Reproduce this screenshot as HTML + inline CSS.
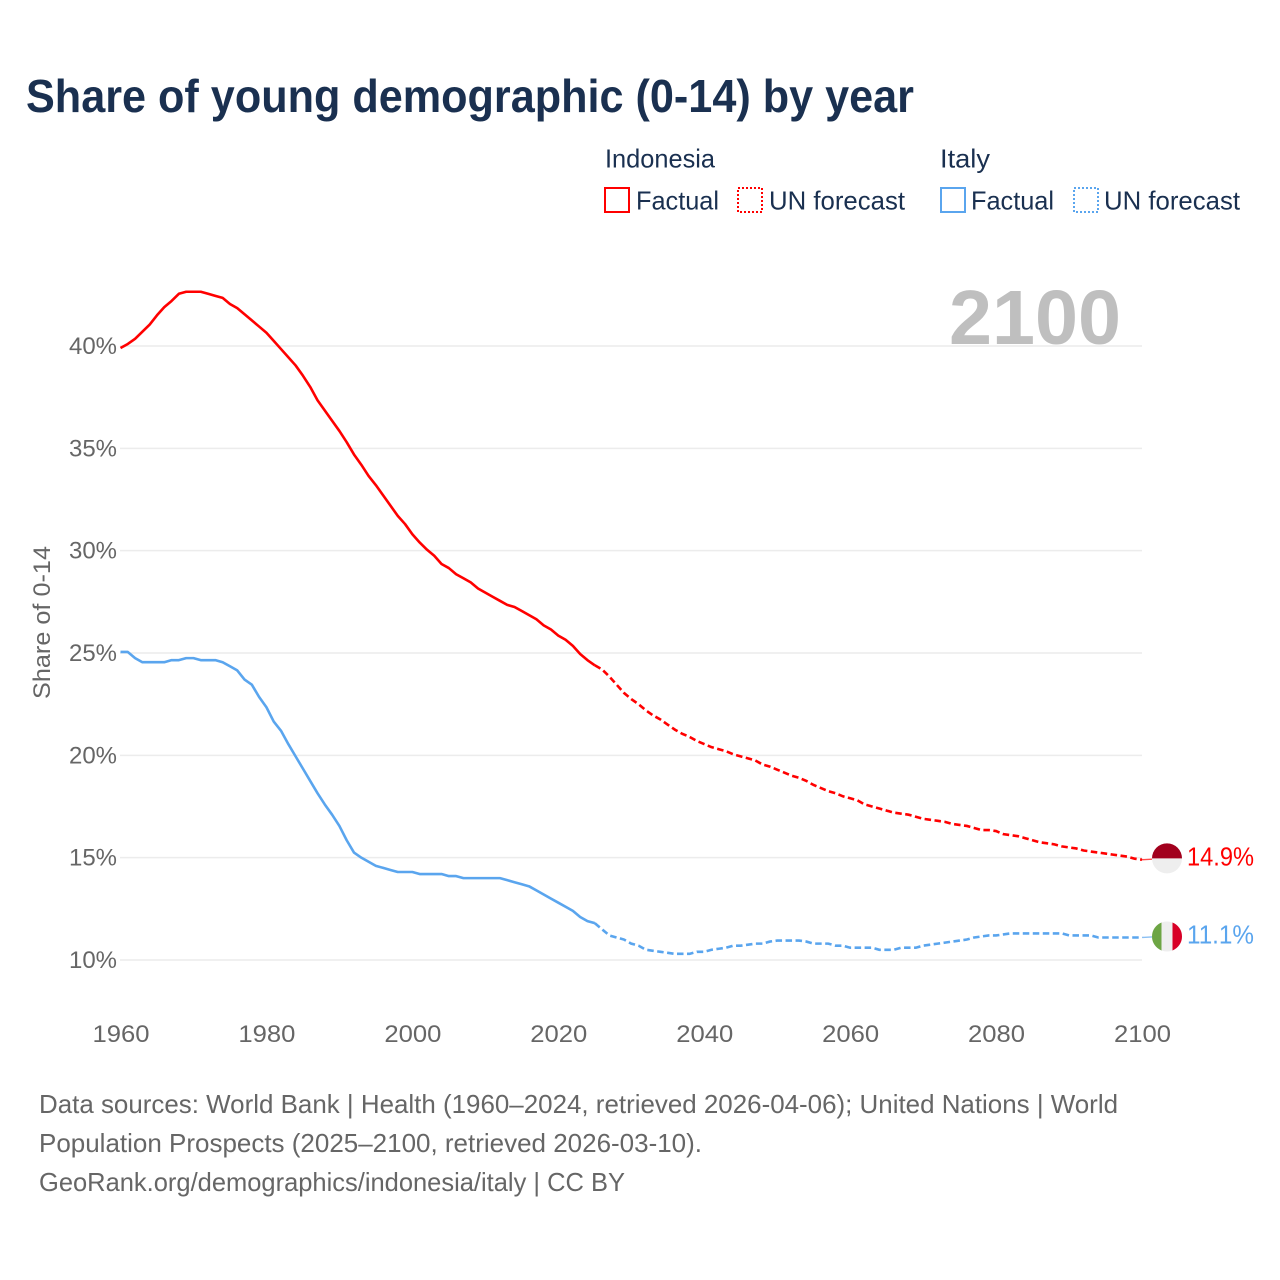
<!DOCTYPE html>
<html lang="en">
<head>
<meta charset="utf-8">
<title>Share of young demographic (0-14) by year</title>
<style>
html,body{margin:0;padding:0;background:#fff;}
svg{display:block;font-family:"Liberation Sans",sans-serif;}
</style>
</head>
<body>
<svg id="chart" xmlns="http://www.w3.org/2000/svg" width="1280" height="1280" viewBox="0 0 1280 1280">
  <rect width="1280" height="1280" fill="#fff"/>
  <text x="26" y="112" font-size="46" font-weight="700" fill="#1a3050" textLength="888" lengthAdjust="spacingAndGlyphs">Share of young demographic (0-14) by year</text>

  <g font-size="26" fill="#1a3050">
    <text x="605" y="167.5" textLength="110" lengthAdjust="spacingAndGlyphs">Indonesia</text>
    <rect x="605" y="188" width="24" height="24" fill="none" stroke="#ff0000" stroke-width="2"/>
    <text x="636" y="209.5" textLength="83" lengthAdjust="spacingAndGlyphs">Factual</text>
    <rect x="738" y="188" width="24" height="24" fill="none" stroke="#ff0000" stroke-width="2" stroke-dasharray="2 2"/>
    <text x="769" y="209.5" textLength="136" lengthAdjust="spacingAndGlyphs">UN forecast</text>

    <text x="940" y="167.5" textLength="50" lengthAdjust="spacingAndGlyphs">Italy</text>
    <rect x="941" y="188" width="24" height="24" fill="none" stroke="#5aa5ee" stroke-width="2"/>
    <text x="971" y="209.5" textLength="83" lengthAdjust="spacingAndGlyphs">Factual</text>
    <rect x="1074" y="188" width="24" height="24" fill="none" stroke="#5aa5ee" stroke-width="2" stroke-dasharray="2 2"/>
    <text x="1104" y="209.5" textLength="136" lengthAdjust="spacingAndGlyphs">UN forecast</text>
  </g>

  <g id="grid"></g>
  <text x="949" y="344" font-size="77" font-weight="700" fill="#bfbfbf" textLength="172" lengthAdjust="spacingAndGlyphs">2100</text>
  <g id="yTicks" font-size="24" fill="#666"></g>
  <g id="xTicks" font-size="24" fill="#666"></g>
  <text transform="translate(50,699) rotate(-90)" font-size="24" fill="#666" textLength="153" lengthAdjust="spacingAndGlyphs">Share of 0-14</text>
  <g id="series"></g>
  <g id="ends"></g>

  <g font-size="26" fill="#666">
    <text x="39" y="1113" textLength="1079" lengthAdjust="spacingAndGlyphs">Data sources: World Bank | Health (1960–2024, retrieved 2026-04-06); United Nations | World</text>
    <text x="39" y="1152" textLength="663" lengthAdjust="spacingAndGlyphs">Population Prospects (2025–2100, retrieved 2026-03-10).</text>
    <text x="39" y="1191" textLength="586" lengthAdjust="spacingAndGlyphs">GeoRank.org/demographics/indonesia/italy | CC BY</text>
  </g>
</svg>
<script>
const firstYear = 1960;
const lastFactualYear = 2025;
const yearTicks = [1960, 1980, 2000, 2020, 2040, 2060, 2080, 2100];
const shareTicks = [10, 15, 20, 25, 30, 35, 40];
const indonesiaEndLabel = "14.9%";
const italyEndLabel = "11.1%";
const indonesiaShare = [
  39.9,40.1,40.35,40.7,41.05,41.5,41.9,42.2,42.55,42.65,
  42.65,42.65,42.55,42.45,42.35,42.05,41.85,41.55,41.25,40.95,
  40.65,40.25,39.85,39.45,39.05,38.55,38,37.35,36.85,36.35,
  35.85,35.3,34.7,34.2,33.65,33.2,32.7,32.2,31.7,31.3,
  30.8,30.4,30.05,29.75,29.35,29.15,28.85,28.65,28.45,28.15,
  27.95,27.75,27.55,27.35,27.25,27.05,26.85,26.65,26.35,26.15,
  25.85,25.65,25.35,24.95,24.65,24.4,24.2,23.85,23.45,23.05,
  22.75,22.5,22.2,21.95,21.75,21.5,21.25,21.05,20.9,20.7,
  20.55,20.4,20.3,20.2,20.05,19.95,19.85,19.75,19.55,19.45,
  19.3,19.15,19,18.9,18.75,18.55,18.4,18.25,18.15,18,
  17.9,17.8,17.6,17.5,17.4,17.3,17.2,17.15,17.1,17,
  16.9,16.85,16.8,16.75,16.65,16.6,16.55,16.45,16.35,16.35,
  16.3,16.15,16.1,16.05,15.95,15.85,15.75,15.7,15.65,15.55,
  15.5,15.45,15.35,15.3,15.25,15.2,15.15,15.1,15.05,14.95,
  14.9
];
const italyShare = [
  25.05,25.05,24.75,24.55,24.55,24.55,24.55,24.65,24.65,24.75,
  24.75,24.65,24.65,24.65,24.55,24.35,24.15,23.7,23.45,22.85,
  22.35,21.65,21.2,20.55,19.95,19.35,18.75,18.15,17.6,17.1,
  16.55,15.85,15.25,15,14.8,14.6,14.5,14.4,14.3,14.3,
  14.3,14.2,14.2,14.2,14.2,14.1,14.1,14,14,14,
  14,14,14,13.9,13.8,13.7,13.6,13.4,13.2,13,
  12.8,12.6,12.4,12.1,11.9,11.8,11.5,11.2,11.1,11,
  10.8,10.7,10.5,10.45,10.4,10.35,10.3,10.3,10.3,10.4,
  10.4,10.5,10.55,10.6,10.7,10.7,10.75,10.8,10.8,10.9,
  10.95,10.95,10.95,10.95,10.9,10.8,10.8,10.8,10.7,10.7,
  10.6,10.6,10.6,10.6,10.5,10.5,10.5,10.6,10.6,10.6,
  10.7,10.75,10.8,10.85,10.9,10.95,11,11.1,11.15,11.2,
  11.2,11.25,11.3,11.3,11.3,11.3,11.3,11.3,11.3,11.3,
  11.2,11.2,11.2,11.2,11.1,11.1,11.1,11.1,11.1,11.1,
  11.1
];

const NS = "http://www.w3.org/2000/svg";
const xScale = function (year) { return 120.5 + (year - 1960) * (1142 - 120.5) / 140; };
const yScale = function (share) { return 960 - (share - 10) * (960 - 346) / 30; };

function make(tag, parent) {
  const el = document.createElementNS(NS, tag);
  parent.appendChild(el);
  return el;
}
function setAll(el, attrs) {
  Object.keys(attrs).forEach(function (k) { el.setAttribute(k, attrs[k]); });
}
function pathFrom(values, fromYear, toYear) {
  let d = "";
  for (let y = fromYear; y <= toYear; y++) {
    d += (d ? "L" : "M") + xScale(y).toFixed(2) + " " + yScale(values[y - firstYear]).toFixed(2);
  }
  return d;
}

const gridG = document.getElementById("grid");
const yTickG = document.getElementById("yTicks");
shareTicks.forEach(function (t) {
  const line = make("line", gridG);
  
  
  setAll(line, { x1: 120, x2: 1142, y1: yScale(t), y2: yScale(t), stroke: "#ececec", "stroke-width": 1.5 });
  const label = make("text", yTickG);
  
  
  setAll(label, { x: 69, y: yScale(t) + 8, textLength: 48, lengthAdjust: "spacingAndGlyphs" });
  label.textContent = t + "%";
});

const xTickG = document.getElementById("xTicks");
yearTicks.forEach(function (t) {
  const label = make("text", xTickG);
  
  
  setAll(label, { x: xScale(t) - 28, y: 1042, textLength: 57, lengthAdjust: "spacingAndGlyphs" });
  label.textContent = String(t);
});

const seriesG = document.getElementById("series");
const lastYear = firstYear + indonesiaShare.length - 1;

const indoFactual = make("path", seriesG);


setAll(indoFactual, { d: pathFrom(indonesiaShare, firstYear, lastFactualYear), fill: "none", stroke: "#ff0000", "stroke-width": 2.6, "stroke-linejoin": "round" });

const indoForecast = make("path", seriesG);


setAll(indoForecast, { d: pathFrom(indonesiaShare, lastFactualYear, lastYear), fill: "none", stroke: "#ff0000", "stroke-width": 2.6, "stroke-dasharray": "6.5 3.5" });

const italyFactual = make("path", seriesG);


setAll(italyFactual, { d: pathFrom(italyShare, firstYear, lastFactualYear), fill: "none", stroke: "#5aa5ee", "stroke-width": 2.6, "stroke-linejoin": "round" });

const italyForecast = make("path", seriesG);


setAll(italyForecast, { d: pathFrom(italyShare, lastFactualYear, lastYear), fill: "none", stroke: "#5aa5ee", "stroke-width": 2.6, "stroke-dasharray": "6.5 3.5" });

const endsG = document.getElementById("ends");
const flagX = 1167;
const flagR = 15;

function connector(value, color, name) {
  const c = make("line", endsG);
  
  
  setAll(c, { x1: xScale(lastYear), x2: flagX - flagR, y1: yScale(value), y2: yScale(value) - 0.5, stroke: color, "stroke-width": 1.4, opacity: 0.7 });
}
function endLabel(value, text, color, name) {
  const t = make("text", endsG);
  
  
  setAll(t, { x: 1187, y: yScale(value) + 6, "font-size": 26, fill: color, textLength: 67, lengthAdjust: "spacingAndGlyphs" });
  t.textContent = text;
}

const indoLast = indonesiaShare[indonesiaShare.length - 1];
const italyLast = italyShare[italyShare.length - 1];
connector(indoLast, "#ff0000", "indonesia-end-connector");
connector(italyLast, "#5aa5ee", "italy-end-connector");

/* Indonesia flag */
const indoCy = yScale(indoLast) - 1.3;
const indoBase = make("circle", endsG);


setAll(indoBase, { cx: flagX, cy: indoCy, r: flagR, fill: "#eeeeee" });
const indoTop = make("path", endsG);


setAll(indoTop, { d: "M" + (flagX - flagR) + " " + indoCy + "A" + flagR + " " + flagR + " 0 0 1 " + (flagX + flagR) + " " + indoCy + "Z", fill: "#a2001d" });

/* Italy flag */
const itCy = yScale(italyLast) - 1;
const itBase = make("circle", endsG);


setAll(itBase, { cx: flagX, cy: itCy, r: flagR, fill: "#eeeeee" });
const bandW = 9.5;
const bandDy = Math.sqrt(flagR * flagR - (flagR - bandW) * (flagR - bandW));
const itGreen = make("path", endsG);


setAll(itGreen, { d: "M" + (flagX - flagR + bandW) + " " + (itCy - bandDy) + "A" + flagR + " " + flagR + " 0 0 0 " + (flagX - flagR + bandW) + " " + (itCy + bandDy) + "Z", fill: "#6da544" });
const itRed = make("path", endsG);


setAll(itRed, { d: "M" + (flagX + flagR - bandW) + " " + (itCy - bandDy) + "A" + flagR + " " + flagR + " 0 0 1 " + (flagX + flagR - bandW) + " " + (itCy + bandDy) + "Z", fill: "#d80027" });

endLabel(indoLast, indonesiaEndLabel, "#ff0000", "indonesia-end-value");
endLabel(italyLast, italyEndLabel, "#5aa5ee", "italy-end-value");
</script>
</body>
</html>
